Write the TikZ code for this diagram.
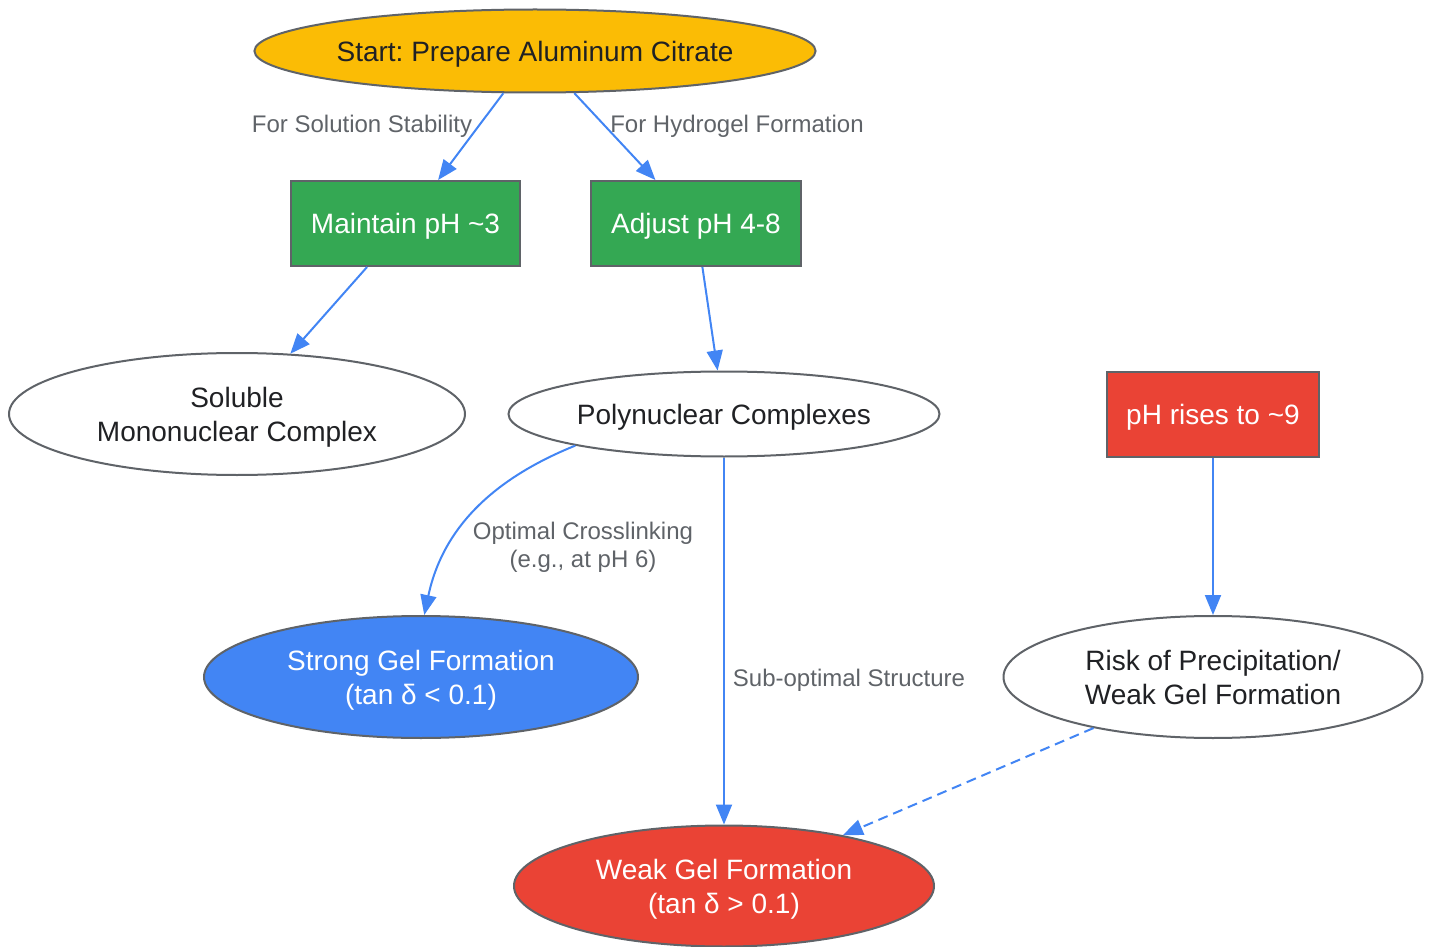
\documentclass[tikz,border=0pt]{standalone}
\usepackage{fontspec}
\setmainfont{Liberation Sans}
\usetikzlibrary{shapes.geometric,arrows.meta}
\definecolor{gyellow}{HTML}{FBBC05}
\definecolor{ggreen}{HTML}{34A853}
\definecolor{gred}{HTML}{EA4335}
\definecolor{gblue}{HTML}{4285F4}
\definecolor{ggrey}{HTML}{5F6368}
\definecolor{gdark}{HTML}{202124}
\frenchspacing
\newcommand{\twolines}[2][1.8pt]{\raisebox{-#1}[\height][\depth]{\begin{tabular}{@{}c@{}}#2\end{tabular}}}
\begin{document}
\begin{tikzpicture}[x=0.5pt,y=-0.5pt,
    every node/.style={font=\fontsize{14}{17}\selectfont, align=center, inner sep=0pt,
      execute at begin node={\rule{0pt}{0.93em}}},
    oval/.style={ellipse, draw=ggrey, line width=1pt, text=gdark},
    box/.style={rectangle, draw=ggrey, line width=1pt, minimum height=42.5pt, text=white},
    lbl/.style={font=\fontsize{12}{14}\selectfont, text=ggrey},
    flow/.style={draw=gblue, line width=1pt, -{Triangle[length=10pt,width=8pt]}}]
  \useasboundingbox (0,0) rectangle (1431,947);
  \node[oval, fill=gyellow, minimum width=277pt, minimum height=41.5pt] (start) at (535,51) {Start: Prepare Aluminum Citrate};
  \node[box, fill=ggreen, minimum width=114.5pt] (maintain) at (405.5,223.5) {Maintain pH \textasciitilde3};
  \node[box, fill=ggreen, minimum width=105pt] (adjust) at (696,223.5) {Adjust pH 4-8};
  \node[oval, fill=white, minimum width=228pt, minimum height=61pt] (soluble) at (237,414) {\twolines{Soluble\\Mononuclear Complex}};
  \node[oval, fill=white, minimum width=215.5pt, minimum height=42.5pt] (poly) at (724,414) {Polynuclear Complexes};
  \node[box, fill=gred, minimum width=106pt] (rise) at (1213,414.5) {pH rises to \textasciitilde9};
  \node[oval, fill=gblue, text=white, minimum width=217pt, minimum height=61pt] (strong) at (421,677) {\twolines{Strong Gel Formation\\(tan δ < 0.1)}};
  \node[oval, fill=white, minimum width=209.5pt, minimum height=61pt] (risk) at (1213,677) {\twolines{Risk of Precipitation/\\Weak Gel Formation}};
  \node[oval, fill=gred, text=white, minimum width=210pt, minimum height=60.5pt] (weak) at (724,886) {\twolines{Weak Gel Formation\\(tan δ > 0.1)}};
  \node[lbl] (lstab) at (362,124) {For Solution Stability};
  \node[lbl] (lhydro) at (737,124) {For Hydrogel Formation};
  \node[lbl] (lopt) at (583,546) {\twolines[1pt]{Optimal Crosslinking\\(e.g., at pH 6)}};
  \node[lbl] (lsub) at (849,678) {Sub-optimal Structure};
  \begin{scope}[every path/.style={flow}]
    \draw (start) -- (maintain);
    \draw (start) -- (adjust);
    \draw (maintain) -- (soluble);
    \draw (adjust) -- (poly);
    \draw (poly.192) to[out=202, in=78] (strong.87);
    \draw (poly) -- (weak);
    \draw (rise) -- (risk);
    \draw[dash pattern=on 5pt off 3pt] (risk) -- (weak);
  \end{scope}
\end{tikzpicture}
\end{document}
